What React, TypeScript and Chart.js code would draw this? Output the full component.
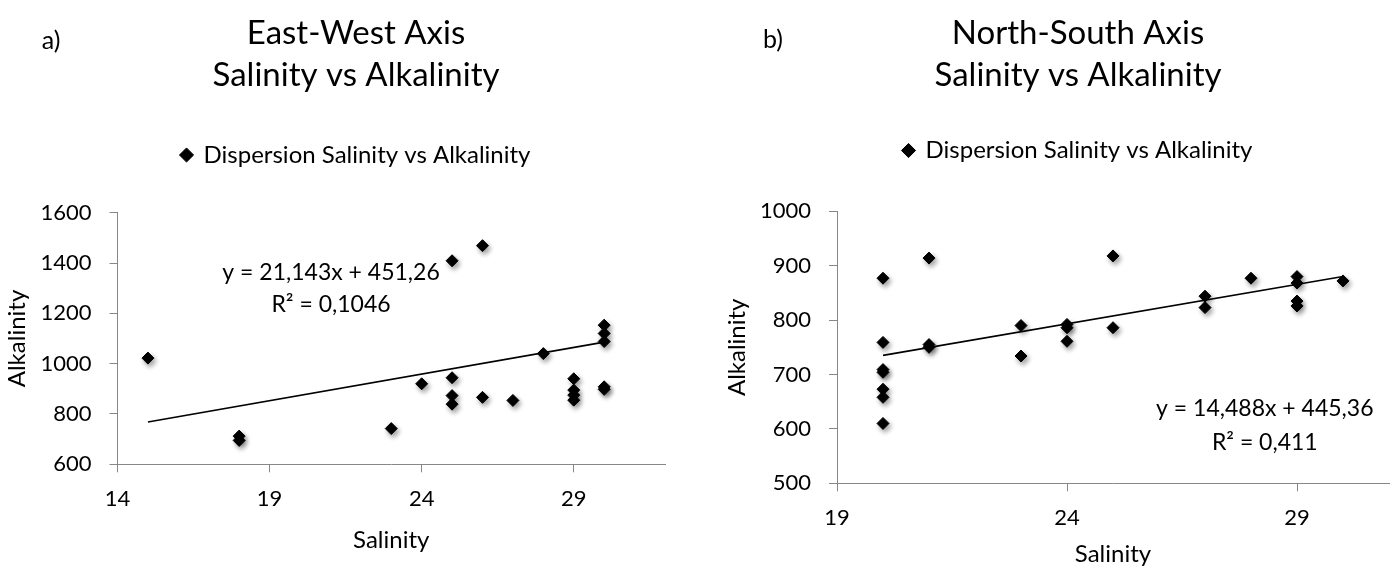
import React, { useEffect, useRef } from 'react';
import { Chart, registerables, layouts } from 'chart.js';

Chart.register(...registerables);

const FONT = 'Lato, "Open Sans", "Noto Sans", sans-serif';

// ---------- Panel a) East-West axis ----------
const EW_SALINITY = [15, 18, 18, 23, 24, 25, 25, 25, 25, 26, 26, 27, 28, 29, 29, 29, 29, 30, 30, 30, 30, 30];
const EW_ALKALINITY = [1022, 712, 695, 742, 920, 1409, 944, 873, 839, 1469, 866, 854, 1040, 940, 895, 875, 855, 1153, 1120, 1088, 908, 898];
const EW_SLOPE = 21.143;
const EW_INTERCEPT = 451.26;
const EW_X_TICKS = [14, 19, 24, 29];
const EW_TITLE = ['East-West Axis', 'Salinity vs Alkalinity'];
const EW_EQUATION = ['y = 21,143x + 451,26', 'R² = 0,1046'];

// ---------- Panel b) North-South axis ----------
const NS_SALINITY = [20, 20, 20, 20, 20, 20, 20, 21, 21, 21, 23, 23, 24, 24, 24, 25, 25, 27, 27, 28, 29, 29, 29, 29, 30];
const NS_ALKALINITY = [877, 759, 709, 704, 673, 658, 610, 914, 755, 750, 790, 734, 792, 786, 761, 918, 786, 844, 823, 877, 880, 868, 835, 826, 872];
const NS_SLOPE = 14.488;
const NS_INTERCEPT = 445.36;
const NS_X_TICKS = [19, 24, 29];
const NS_TITLE = ['North-South Axis', 'Salinity vs Alkalinity'];
const NS_EQUATION = ['y = 14,488x + 445,36', 'R² = 0,411'];

const SERIES_LABEL = 'Dispersion Salinity vs Alkalinity';
const X_TITLE = 'Salinity';
const Y_TITLE = 'Alkalinity';

const AXIS_GREY = '#878787';

type Spec = {
  xs: number[];
  ys: number[];
  slope: number;
  intercept: number;
  xTicks: number[];
  xMin: number;
  xMax: number;
  yMin: number;
  yMax: number;
  yStep: number;
  title: string[];
  equation: string[];
  panelLabel: string;
  titleBottom: number;
  spacer: number;
  yAxisWidth: number;
  yTitlePad: number;
  xAxisHeight: number;
  xTitlePadBottom: number;
  padRight: number;
  labelX: number;
  labelY: number;
  eqX: number;
  eqY: number[];
};

const EW: Spec = {
  xs: EW_SALINITY, ys: EW_ALKALINITY, slope: EW_SLOPE, intercept: EW_INTERCEPT,
  xTicks: EW_X_TICKS, xMin: 14, xMax: 32, yMin: 600, yMax: 1600, yStep: 200,
  title: EW_TITLE, equation: EW_EQUATION, panelLabel: 'a)',
  titleBottom: 37, spacer: 35.7, yAxisWidth: 117.5, yTitlePad: 2.6,
  xAxisHeight: 105.7, xTitlePadBottom: 15.6, padRight: 47,
  labelX: 51, labelY: 41, eqX: 21.02, eqY: [1362, 1236],
};

const NS: Spec = {
  xs: NS_SALINITY, ys: NS_ALKALINITY, slope: NS_SLOPE, intercept: NS_INTERCEPT,
  xTicks: NS_X_TICKS, xMin: 19, xMax: 31, yMin: 500, yMax: 1000, yStep: 100,
  title: NS_TITLE, equation: NS_EQUATION, panelLabel: 'b)',
  titleBottom: 32.5, spacer: 38.8, yAxisWidth: 137, yTitlePad: 22.6,
  xAxisHeight: 86.7, xTitlePadBottom: 1.6, padRight: 67,
  labelX: 73, labelY: 40, eqX: 28.3, eqY: [638, 575],
};

function makeSpacer(h: number) {
  return {
    id: 'spacer',
    beforeInit(chart: any) {
      const box: any = {
        position: 'top',
        weight: 500,
        fullSize: true,
        options: {},
        left: 0, top: 0, right: 0, bottom: 0, width: 0, height: 0,
        isHorizontal() { return true; },
        update(maxWidth: number) { box.width = maxWidth; box.height = h; },
        draw() {},
      };
      layouts.addBox(chart, box);
    },
  };
}

const shadowPlugin = {
  id: 'markerShadow',
  beforeDatasetDraw(chart: any, args: any) {
    if (args.index !== 0) return;
    const ctx = chart.ctx;
    ctx.save();
    ctx.shadowColor = 'rgba(0,0,0,0.38)';
    ctx.shadowBlur = 5;
    ctx.shadowOffsetX = 2;
    ctx.shadowOffsetY = 3;
  },
  afterDatasetDraw(chart: any, args: any) {
    if (args.index !== 0) return;
    chart.ctx.restore();
  },
};

function makeTextPlugin(p: Spec) {
  return {
    id: 'annotations',
    afterDraw(chart: any) {
      const { ctx, scales } = chart;
      ctx.save();
      ctx.fillStyle = '#000';
      ctx.textAlign = 'center';
      ctx.textBaseline = 'middle';
      ctx.font = `25px ${FONT}`;
      ctx.fillText(p.panelLabel, p.labelX, p.labelY);
      ctx.font = `23px ${FONT}`;
      const px = scales.x.getPixelForValue(p.eqX);
      p.equation.forEach((t, i) => {
        ctx.fillText(t, px, scales.y.getPixelForValue(p.eqY[i]));
      });
      ctx.restore();
    },
  };
}

function buildConfig(p: Spec): any {
  const points = p.xs.map((x, i) => ({ x, y: p.ys[i] }));
  const lo = Math.min(...p.xs);
  const hi = Math.max(...p.xs);
  const trend = [lo, hi].map((x) => ({ x, y: p.slope * x + p.intercept }));
  const gridOpts = {
    display: true,
    drawOnChartArea: false,
    drawTicks: true,
    tickLength: 8,
    color: AXIS_GREY,
    lineWidth: 1,
  };
  const borderOpts = { display: true, color: AXIS_GREY, width: 1 };
  const tickFont = { family: FONT, size: 22 };
  const axisTitleFont = { family: FONT, size: 24 };
  return {
    type: 'scatter',
    data: {
      datasets: [
        {
          label: SERIES_LABEL,
          data: points,
          pointStyle: 'rectRot',
          pointRadius: 6,
          pointHoverRadius: 6,
          backgroundColor: '#000',
          borderColor: '#000',
          borderWidth: 1,
        },
        {
          label: 'trend',
          data: trend,
          showLine: true,
          pointRadius: 0,
          pointHoverRadius: 0,
          borderColor: '#000',
          backgroundColor: '#000',
          borderWidth: 1.6,
          fill: false,
        },
      ],
    },
    options: {
      responsive: false,
      animation: false,
      events: [],
      layout: { padding: 0 },
      plugins: {
        title: {
          display: true,
          text: p.title,
          color: '#000',
          font: { family: FONT, size: 33, weight: 'normal', lineHeight: 42 / 33 },
          padding: { top: 12, bottom: p.titleBottom },
        },
        legend: {
          display: true,
          labels: {
            usePointStyle: true,
            boxWidth: 10,
            boxHeight: 10,
            padding: 10,
            color: '#000',
            font: { family: FONT, size: 24 },
            filter: (item: any) => item.datasetIndex === 0,
          },
        },
        tooltip: { enabled: false },
      },
      scales: {
        x: {
          type: 'linear',
          min: p.xMin,
          max: p.xMax,
          afterBuildTicks: (s: any) => {
            s.ticks = p.xTicks.map((v) => ({ value: v }));
          },
          afterFit: (s: any) => {
            s.height = p.xAxisHeight;
            s.paddingRight = p.padRight;
          },
          ticks: {
            color: '#000',
            font: tickFont,
            padding: 13.8,
            maxRotation: 0,
            callback: (v: any) => String(v),
          },
          grid: gridOpts,
          border: borderOpts,
          title: {
            display: true,
            text: X_TITLE,
            color: '#000',
            font: axisTitleFont,
            padding: { top: 4, bottom: p.xTitlePadBottom },
          },
        },
        y: {
          type: 'linear',
          min: p.yMin,
          max: p.yMax,
          ticks: {
            stepSize: p.yStep,
            color: '#000',
            font: tickFont,
            padding: 18,
            callback: (v: any) => String(v),
          },
          afterFit: (s: any) => {
            s.width = p.yAxisWidth;
          },
          grid: gridOpts,
          border: borderOpts,
          title: {
            display: true,
            text: Y_TITLE,
            color: '#000',
            font: axisTitleFont,
            padding: { top: p.yTitlePad, bottom: 4 },
          },
        },
      },
    },
    plugins: [makeSpacer(p.spacer), shadowPlugin, makeTextPlugin(p)],
  };
}

function Panel({ spec, left, width }: { spec: Spec; left: number; width: number }) {
  const ref = useRef<HTMLCanvasElement>(null);
  useEffect(() => {
    if (!ref.current) return;
    const chart = new Chart(ref.current, buildConfig(spec));
    return () => chart.destroy();
  }, [spec]);
  return (
    <canvas
      ref={ref}
      width={width}
      height={570}
      style={{ position: 'absolute', left, top: 0, width, height: 570 }}
    />
  );
}

export default function App() {
  return (
    <div
      style={{
        position: 'absolute',
        left: 0,
        top: 0,
        width: 1394,
        height: 570,
        overflow: 'hidden',
        background: '#fff',
      }}
    >
      <Panel spec={EW} left={0} width={712} />
      <Panel spec={NS} left={700} width={756} />
    </div>
  );
}
